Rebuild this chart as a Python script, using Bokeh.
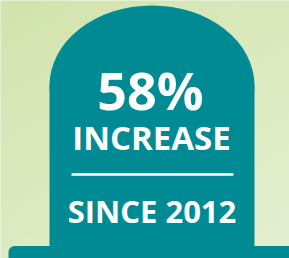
import numpy as np
from bokeh.plotting import figure
from bokeh.models import Range1d
from bokeh.embed import file_html
from bokeh.resources import INLINE
from bokeh.core.properties import value

# ---- data ----
percent_values = [58]
headline_labels = ["INCREASE"]
since_years = [2012]

W, H = 289, 258
TEAL = "#008b94"

p = figure(width=W, height=H, x_range=Range1d(0, W), y_range=Range1d(0, H),
           output_backend="svg", toolbar_location=None, min_border=0)
p.axis.visible = False
p.grid.visible = False
p.outline_line_color = None
p.background_fill_color = "#dbe9bf"
p.border_fill_color = "#dbe9bf"

# soft diagonal background gradient (decoration); image row 0 is the bottom
gy, gx = np.mgrid[0:64, 0:64]
t = gx / 63.0 * 0.4 + (63 - gy) / 63.0 * 0.6   # 0 at top-left, 1 at bottom-right
c0 = np.array([0xd2, 0xe4, 0xac])
c1 = np.array([0xe4, 0xf0, 0xd2])
img = np.zeros((64, 64), dtype=np.uint32)
view = img.view(dtype=np.uint8).reshape((64, 64, 4))
for k in range(3):
    view[:, :, k] = (c0[k] + (c1[k] - c0[k]) * t).astype(np.uint8)
view[:, :, 3] = 255
p.image_rgba(image=[img], x=0, y=0, dw=W, dh=H)

def py(v):
    return H - v

# tombstone: elliptical top + body
p.ellipse(x=151.5, y=py(85), width=205, height=160, fill_color=TEAL, line_color=None)
p.quad(left=49, right=254, top=py(85), bottom=py(250), fill_color=TEAL, line_color=None)
# base
p.quad(left=8, right=310, top=py(245.5), bottom=py(270), fill_color=TEAL, line_color=None,
       border_radius=6)

# texts
p.text(x=[150], y=[py(89)], text=[f"{v}%" for v in percent_values],
       text_font=value("Open Sans"), text_font_style="bold", text_font_size="52px",
       text_color="white", text_align="center", text_baseline="middle")
p.text(x=[151], y=[py(137)], text=headline_labels,
       text_font=value("Open Sans"), text_font_style="bold", text_font_size="33px",
       text_color="white", text_align="center", text_baseline="middle")
p.segment(x0=71, y0=py(174), x1=233, y1=py(174), line_color="white", line_width=2.5)
p.text(x=[151.5], y=[py(210.5)], text=[f"SINCE {y}" for y in since_years],
       text_font=value("Open Sans"), text_font_style="bold", text_font_size="31px",
       text_color="white", text_align="center", text_baseline="middle")

html = file_html(p, INLINE)
html = html.replace("<head>", "<head><style>html,body{margin:0;padding:0;overflow:hidden;}</style>", 1)
open("out.html", "w").write(html)
